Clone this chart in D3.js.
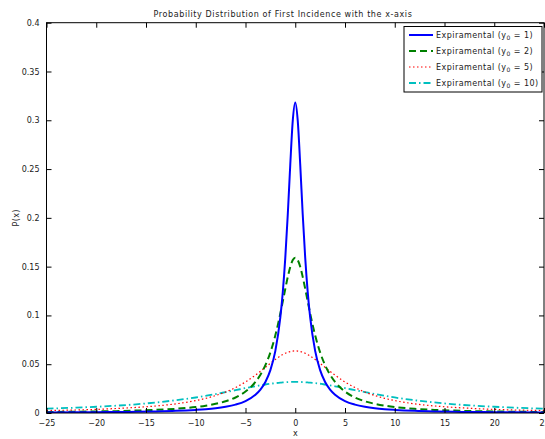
<!DOCTYPE html>
<html>
<head>
<meta charset="utf-8">
<script src="https://cdn.jsdelivr.net/npm/d3@7"></script>
<style>
  html, body { margin: 0; padding: 0; background: #fff; }
  svg { display: block; }
  text { font-family: "DejaVu Sans", sans-serif; fill: #1a1a1a; }
</style>
</head>
<body>
<svg id="chart" width="545" height="439"></svg>
<script>
// Sample positions shared by all four measured curves
const xs = [-25,-22,-20,-18,-16,-14,-12,-10,-9,-8,-7,-6,-5,-4,-3.5,-3,-2.5,-2,-1.5,-1.25,-1,-0.75,-0.5,-0.25,
            0,
            0.25,0.5,0.75,1,1.25,1.5,2,2.5,3,3.5,4,5,6,7,8,9,10,12,14,16,18,20,22,25];

// Measured P(x) for each starting height y0
const pY1 = [0.0005,0.0007,0.0008,0.0010,0.0012,0.0016,0.0022,0.0032,0.0039,0.0049,0.0064,0.0086,0.0122,0.0187,0.0240,0.0318,0.0439,0.0637,0.0979,0.1242,0.1592,0.2037,0.2546,0.2996,
             0.3183,
             0.2996,0.2546,0.2037,0.1592,0.1242,0.0979,0.0637,0.0439,0.0318,0.0240,0.0187,0.0122,0.0086,0.0064,0.0049,0.0039,0.0032,0.0022,0.0016,0.0012,0.0010,0.0008,0.0007,0.0005];
const pY2 = [0.0010,0.0013,0.0016,0.0019,0.0025,0.0032,0.0043,0.0061,0.0075,0.0094,0.0120,0.0159,0.0220,0.0318,0.0392,0.0490,0.0621,0.0796,0.1019,0.1145,0.1273,0.1395,0.1498,0.1567,
             0.1592,
             0.1567,0.1498,0.1395,0.1273,0.1145,0.1019,0.0796,0.0621,0.0490,0.0392,0.0318,0.0220,0.0159,0.0120,0.0094,0.0075,0.0061,0.0043,0.0032,0.0025,0.0019,0.0016,0.0013,0.0010];
const pY5 = [0.0025,0.0031,0.0037,0.0046,0.0057,0.0072,0.0094,0.0127,0.0150,0.0179,0.0215,0.0261,0.0318,0.0388,0.0427,0.0468,0.0509,0.0549,0.0584,0.0599,0.0612,0.0623,0.0630,0.0635,
             0.0637,
             0.0635,0.0630,0.0623,0.0612,0.0599,0.0584,0.0549,0.0509,0.0468,0.0427,0.0388,0.0318,0.0261,0.0215,0.0179,0.0150,0.0127,0.0094,0.0072,0.0057,0.0046,0.0037,0.0031,0.0025];
const pY10 = [0.0044,0.0055,0.0064,0.0075,0.0089,0.0108,0.0131,0.0159,0.0176,0.0194,0.0214,0.0234,0.0255,0.0274,0.0284,0.0292,0.0300,0.0306,0.0311,0.0313,0.0315,0.0317,0.0318,0.0318,
              0.0318,
              0.0318,0.0318,0.0317,0.0315,0.0313,0.0311,0.0306,0.0300,0.0292,0.0284,0.0274,0.0255,0.0234,0.0214,0.0194,0.0176,0.0159,0.0131,0.0108,0.0089,0.0075,0.0064,0.0055,0.0044];

const seriesLabels = ["1", "2", "5", "10"];
const seriesColors = ["#0000ff", "#008000", "#ff0000", "#00bfbf"];
const xTicks = [-25,-20,-15,-10,-5,0,5,10,15,20,25];
const yTicks = [0,0.05,0.1,0.15,0.2,0.25,0.3,0.35,0.4];

const titleText = "Probability Distribution of First Incidence with the x-axis";
const xLabelText = "x";
const yLabelText = "P(x)";

const svg = d3.select("#chart");
const plot = { left: 46.5, right: 544, top: 22.7, bottom: 413 };

const x = d3.scaleLinear().domain([-25, 25]).range([plot.left, plot.right]);
const y = d3.scaleLinear().domain([0, 0.4]).range([plot.bottom, plot.top]);

svg.append("defs").append("clipPath").attr("id", "plotClip")
  .append("rect")
  .attr("x", plot.left).attr("y", plot.top)
  .attr("width", plot.right - plot.left).attr("height", plot.bottom - plot.top);

// Curve styles: solid, dashed, dotted, dash-dot
const styles = [
  { width: 2, dash: null },
  { width: 2, dash: "7,4" },
  { width: 1.2, dash: "1.5,2.5" },
  { width: 1.8, dash: "7,3,1.5,3" }
];
const seriesValues = [pY1, pY2, pY5, pY10];
const line = d3.line()
  .x(d => x(d[0]))
  .y(d => y(d[1]))
  .curve(d3.curveMonotoneX);

const curves = svg.append("g").attr("clip-path", "url(#plotClip)");
// widest curve underneath, narrow peak on top
[3, 2, 1, 0].forEach(i => {
  curves.append("path")
    .datum(xs.map((xv, k) => [xv, seriesValues[i][k]]))
    .attr("fill", "none")
    .attr("stroke", seriesColors[i])
    .attr("stroke-width", styles[i].width)
    .attr("stroke-dasharray", styles[i].dash)
    .attr("d", line);
});

// Axes: ticks pointing inward on all four sides
const tickLen = 5;
const fontSize = 8;

const xAxisB = d3.axisBottom(x).tickValues(xTicks).tickSizeInner(-tickLen).tickSizeOuter(0)
  .tickPadding(tickLen + 2).tickFormat(d3.format("d"));
const xAxisT = d3.axisTop(x).tickValues(xTicks).tickSizeInner(-tickLen).tickSizeOuter(0).tickFormat("");
const yAxisL = d3.axisLeft(y).tickValues(yTicks).tickSizeInner(-tickLen).tickSizeOuter(0)
  .tickPadding(tickLen + 2).tickFormat(d => d === 0 ? "0" : String(+d.toFixed(2)));
const yAxisR = d3.axisRight(y).tickValues(yTicks).tickSizeInner(-tickLen).tickSizeOuter(0).tickFormat("");

function styleAxis(g) {
  g.selectAll(".domain").remove();
  g.selectAll(".tick line").attr("stroke", "#000").attr("stroke-width", 1);
  g.selectAll(".tick text").attr("font-size", fontSize).attr("fill", "#1a1a1a")
    .style("font-family", "'DejaVu Sans', sans-serif");
}

svg.append("g").attr("transform", `translate(0,${plot.bottom})`).call(xAxisB).call(styleAxis);
svg.append("g").attr("transform", `translate(0,${plot.top})`).call(xAxisT).call(styleAxis);
svg.append("g").attr("transform", `translate(${plot.left},0)`).call(yAxisL).call(styleAxis);
svg.append("g").attr("transform", `translate(${plot.right},0)`).call(yAxisR).call(styleAxis);

// Axes box
svg.append("rect")
  .attr("x", plot.left).attr("y", plot.top)
  .attr("width", plot.right - plot.left).attr("height", plot.bottom - plot.top)
  .attr("fill", "none").attr("stroke", "#000").attr("stroke-width", 1);

// Title and axis labels
svg.append("text")
  .attr("x", 283).attr("y", 17)
  .attr("text-anchor", "middle").attr("font-size", fontSize)
  .attr("letter-spacing", 0.6)
  .text(titleText);

svg.append("text")
  .attr("x", x(0)).attr("y", 436)
  .attr("text-anchor", "middle").attr("font-size", fontSize)
  .text(xLabelText);

svg.append("text")
  .attr("transform", `translate(19,${(plot.top + plot.bottom) / 2}) rotate(-90)`)
  .attr("text-anchor", "middle").attr("font-size", fontSize)
  .attr("letter-spacing", 0.4)
  .text(yLabelText);

// Legend
const legend = svg.append("g");
const lg = { x: 404, y: 26.5, w: 138, h: 65.5 };
legend.append("rect")
  .attr("x", lg.x).attr("y", lg.y).attr("width", lg.w).attr("height", lg.h)
  .attr("fill", "#fff").attr("stroke", "#000").attr("stroke-width", 1);

seriesLabels.forEach((lab, i) => {
  const rowY = 35 + i * 16;
  legend.append("line")
    .attr("x1", 409).attr("x2", 433).attr("y1", rowY).attr("y2", rowY)
    .attr("stroke", seriesColors[i])
    .attr("stroke-width", styles[i].width)
    .attr("stroke-dasharray", styles[i].dash);
  const t = legend.append("text")
    .attr("x", 436).attr("y", rowY + 3).attr("font-size", fontSize)
    .attr("letter-spacing", 0.45);
  t.append("tspan").text("Expiramental (y");
  t.append("tspan").attr("font-size", 6).attr("dy", 2).text("0");
  t.append("tspan").attr("dy", -2).text(" = " + lab + ")");
});
</script>
</body>
</html>
